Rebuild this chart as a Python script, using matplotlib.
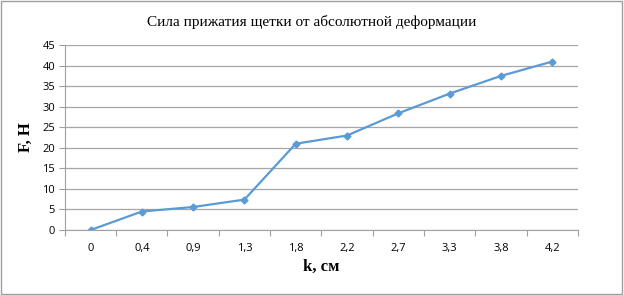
import matplotlib.pyplot as plt
from matplotlib.patches import Rectangle

# data
k_labels = ["0", "0,4", "0,9", "1,3", "1,8", "2,2", "2,7", "3,3", "3,8", "4,2"]
force = [0, 4.5, 5.6, 7.4, 21.0, 23.0, 28.4, 33.2, 37.5, 41.0]

fig = plt.figure(figsize=(6.24, 2.95), dpi=100)
ax = fig.add_axes([0.104, 0.2203, 0.822, 0.6267])

x = list(range(len(k_labels)))
ax.plot(x, force, color="#5b9bd5", linewidth=1.6, marker="D", markersize=3.5)

# category axis: ticks between categories, labels in the middle
ax.set_xlim(-0.5, len(k_labels) - 0.5)
ax.set_xticks([i - 0.5 for i in range(len(k_labels) + 1)])
ax.set_xticklabels([])
ax.set_xticks(x, minor=True)
ax.set_xticklabels(k_labels, minor=True, fontsize=8, family="Open Sans")
ax.tick_params(axis="x", which="minor", length=0, pad=9)
ax.tick_params(axis="x", which="major", length=4, color="#a0a0a0")

ax.set_ylim(0, 45)
ax.set_yticks(range(0, 46, 5))
ax.tick_params(axis="y", length=4, color="#a0a0a0", labelsize=8, pad=3)
for t in ax.get_yticklabels():
    t.set_family("Open Sans")

ax.grid(axis="y", color="#a6a6a6", linewidth=0.9)
ax.set_axisbelow(True)
for s in ["top", "right"]:
    ax.spines[s].set_visible(False)
for s in ["left", "bottom"]:
    ax.spines[s].set_color("#a0a0a0")

ax.set_xlabel("k, см", family="Liberation Serif", fontsize=12, fontweight="bold", labelpad=4)
ax.set_ylabel("F, Н", family="Liberation Serif", fontsize=12, fontweight="bold", labelpad=6)
fig.suptitle("Сила прижатия щетки от абсолютной деформации", family="Liberation Serif",
             fontsize=11, y=0.95)

# outer frame of the chart
fig.patches.append(Rectangle((0.002, 0.003), 0.995, 0.993, transform=fig.transFigure,
                             fill=False, edgecolor="#a0a0a0", linewidth=1))

fig.savefig("out.png", dpi=100)
